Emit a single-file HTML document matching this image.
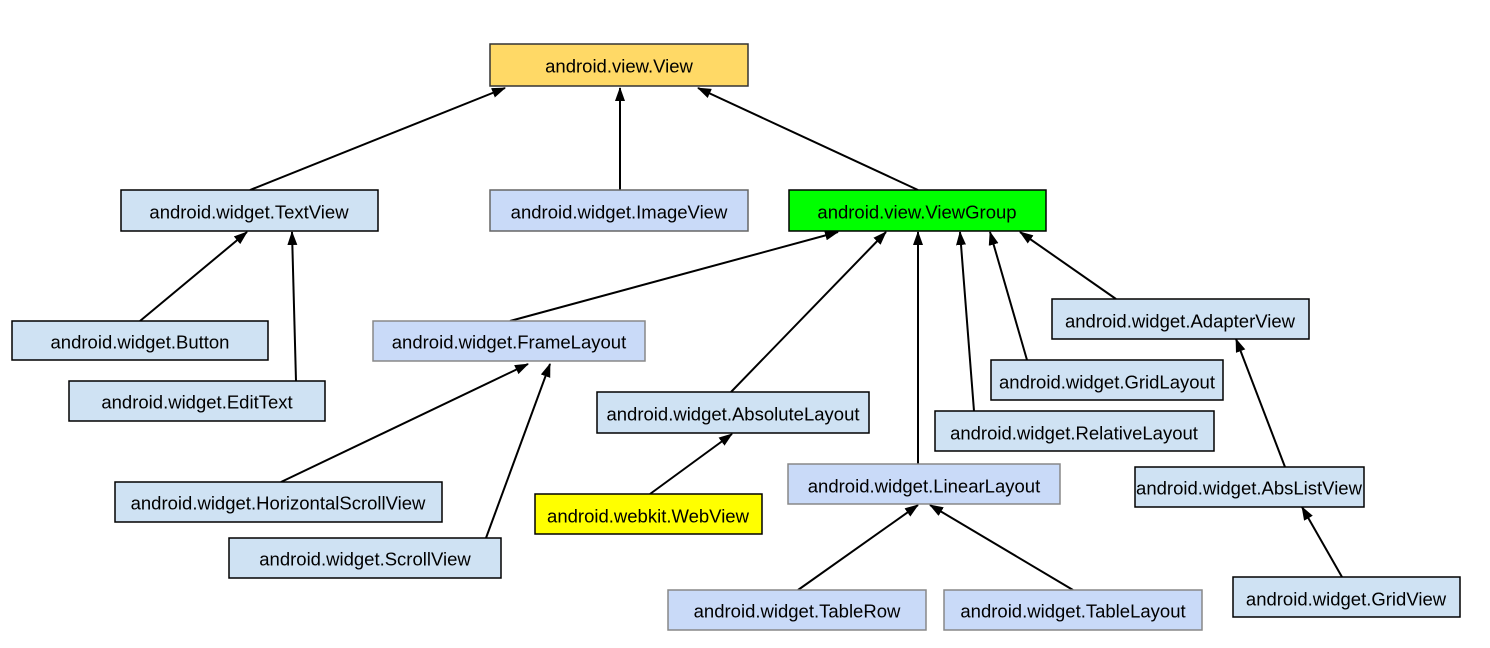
<!DOCTYPE html>
<html><head><meta charset="utf-8"><style>
html,body{margin:0;padding:0;background:#fff;}
svg{display:block;}
text{font-family:"Liberation Sans",Arial,sans-serif;font-size:18.5px;fill:#000;text-anchor:middle;dominant-baseline:central;}
</style></head><body>
<svg width="1490" height="648" viewBox="0 0 1490 648" xmlns="http://www.w3.org/2000/svg">
<defs><marker id="a" markerWidth="14" markerHeight="10" refX="13" refY="5" orient="auto" markerUnits="userSpaceOnUse"><path d="M0,0 L14,5 L0,10 z" fill="#000"/></marker></defs>
<g stroke="#000" stroke-width="2" marker-end="url(#a)" fill="none">
<line x1="250" y1="190" x2="505" y2="88"/>
<line x1="620" y1="190" x2="620" y2="88"/>
<line x1="918" y1="190" x2="698" y2="88"/>
<line x1="140" y1="321" x2="247" y2="232"/>
<line x1="296" y1="381" x2="292" y2="232"/>
<line x1="510" y1="321" x2="838" y2="232"/>
<line x1="281" y1="482" x2="528" y2="364"/>
<line x1="486" y1="538" x2="550" y2="364"/>
<line x1="731" y1="392" x2="886" y2="232"/>
<line x1="650" y1="494" x2="732" y2="434"/>
<line x1="918" y1="464" x2="918" y2="232"/>
<line x1="974" y1="411" x2="960" y2="232"/>
<line x1="1027" y1="360" x2="990" y2="232"/>
<line x1="1116" y1="299" x2="1020" y2="232"/>
<line x1="798" y1="590" x2="918" y2="505"/>
<line x1="1073" y1="590" x2="930" y2="505"/>
<line x1="1285" y1="467" x2="1236" y2="339"/>
<line x1="1342" y1="577" x2="1302" y2="507"/>
</g>
<g stroke-width="1.5">
<rect x="490" y="44" width="258" height="42" fill="#ffd966" stroke="#333"/>
<rect x="121" y="190" width="257" height="41" fill="#cfe2f3" stroke="#000"/>
<rect x="490" y="190" width="258" height="41" fill="#c9daf8" stroke="#666"/>
<rect x="789" y="190" width="257" height="41" fill="#00ff00" stroke="#000"/>
<rect x="12" y="321" width="256" height="39" fill="#cfe2f3" stroke="#000"/>
<rect x="69" y="381" width="256" height="40" fill="#cfe2f3" stroke="#000"/>
<rect x="373" y="321" width="272" height="40" fill="#c9daf8" stroke="#888"/>
<rect x="597" y="392" width="272" height="41" fill="#cfe2f3" stroke="#000"/>
<rect x="535" y="494" width="227" height="40" fill="#ffff00" stroke="#000"/>
<rect x="115" y="482" width="327" height="40" fill="#cfe2f3" stroke="#000"/>
<rect x="229" y="538" width="272" height="40" fill="#cfe2f3" stroke="#000"/>
<rect x="788" y="464" width="272" height="40" fill="#c9daf8" stroke="#888"/>
<rect x="668" y="590" width="258" height="40" fill="#c9daf8" stroke="#888"/>
<rect x="944" y="590" width="258" height="40" fill="#c9daf8" stroke="#888"/>
<rect x="1052" y="299" width="257" height="40" fill="#cfe2f3" stroke="#000"/>
<rect x="991" y="360" width="232" height="40" fill="#cfe2f3" stroke="#000"/>
<rect x="935" y="411" width="279" height="40" fill="#cfe2f3" stroke="#000"/>
<rect x="1135" y="467" width="229" height="40" fill="#cfe2f3" stroke="#000"/>
<rect x="1233" y="577" width="227" height="40" fill="#cfe2f3" stroke="#000"/>
</g>
<text x="619" y="66">android.view.View</text>
<text x="249" y="212">android.widget.TextView</text>
<text x="619" y="212">android.widget.ImageView</text>
<text x="917" y="212">android.view.ViewGroup</text>
<text x="140" y="342">android.widget.Button</text>
<text x="197" y="402">android.widget.EditText</text>
<text x="509" y="342">android.widget.FrameLayout</text>
<text x="733" y="414">android.widget.AbsoluteLayout</text>
<text x="648" y="516">android.webkit.WebView</text>
<text x="278" y="503">android.widget.HorizontalScrollView</text>
<text x="365" y="559">android.widget.ScrollView</text>
<text x="924" y="486">android.widget.LinearLayout</text>
<text x="797" y="611">android.widget.TableRow</text>
<text x="1073" y="611">android.widget.TableLayout</text>
<text x="1180" y="321">android.widget.AdapterView</text>
<text x="1107" y="382">android.widget.GridLayout</text>
<text x="1074" y="433">android.widget.RelativeLayout</text>
<text x="1249" y="488">android.widget.AbsListView</text>
<text x="1346" y="599">android.widget.GridView</text>
</svg>
</body></html>
